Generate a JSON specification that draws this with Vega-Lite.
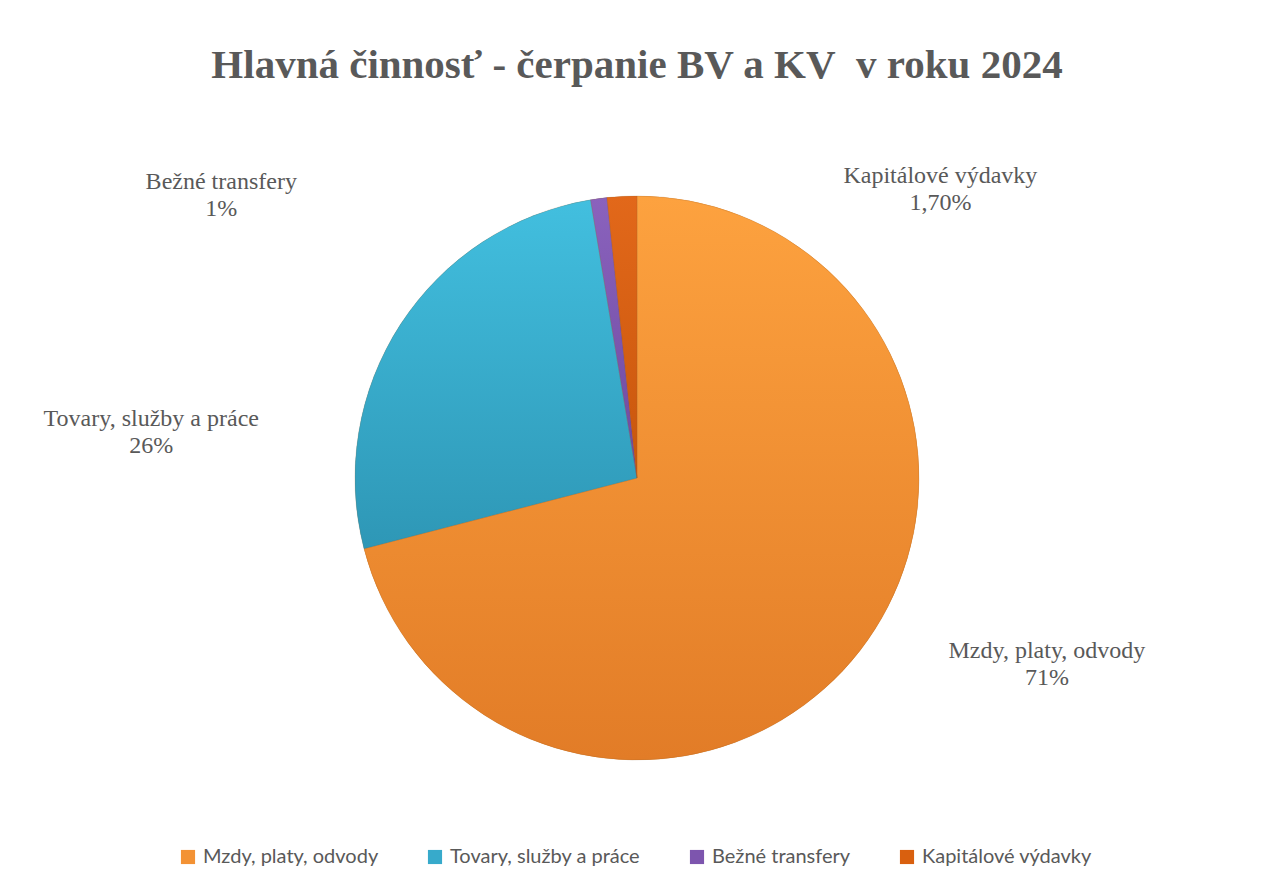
{
  "$schema": "https://vega.github.io/schema/vega-lite/v6.json",
  "autosize": "none",
  "width": 1274,
  "height": 704,
  "padding": {"left": 0, "top": 126, "right": 11, "bottom": 61},
  "background": "white",
  "title": {
    "text": "Hlavná činnosť - čerpanie BV a KV\u00a0 v roku 2024",
    "font": "Liberation Serif",
    "fontSize": 41,
    "fontWeight": "bold",
    "color": "#595959",
    "anchor": "middle",
    "offset": 20
  },
  "config": {"view": {"stroke": null}},
  "data": {
    "values": [
      {"kategoria": "Mzdy, platy, odvody", "podiel": 70.97, "poradie": 1, "popis": "Mzdy, platy, odvody\n71%"},
      {"kategoria": "Tovary, služby a práce", "podiel": 26.4, "poradie": 2, "popis": "Tovary, služby a práce\n26%"},
      {"kategoria": "Bežné transfery", "podiel": 0.93, "poradie": 3, "popis": "Bežné transfery\n1%"},
      {"kategoria": "Kapitálové výdavky", "podiel": 1.7, "poradie": 4, "popis": "Kapitálové výdavky\n1,70%"}
    ]
  },
  "encoding": {
    "theta": {"field": "podiel", "type": "quantitative", "stack": true, "scale": {"domain": [0, 100]}},
    "order": {"field": "poradie", "type": "quantitative"}
  },
  "layer": [
    {
      "mark": {"type": "arc", "outerRadius": 282},
      "encoding": {
        "color": {
          "field": "kategoria",
          "type": "nominal",
          "scale": {
            "domain": ["Mzdy, platy, odvody", "Tovary, služby a práce", "Bežné transfery", "Kapitálové výdavky"],
            "range": ["#F39234", "#37AACB", "#7D55AE", "#D9600F"]
          },
          "legend": {
            "title": null,
            "orient": "none",
            "legendX": 178,
            "legendY": 721,
            "direction": "horizontal",
            "labelFont": "Lato",
            "labelFontSize": 20,
            "labelColor": "#595959",
            "labelOffset": 5,
            "symbolType": "square",
            "symbolSize": 200,
            "symbolStrokeWidth": 0,
            "symbolOpacity": 1,
            "columnPadding": 46,
            "labelLimit": 400
          }
        }
      }
    },
    {
      "mark": {"type": "arc", "outerRadius": 282, "stroke": "#8a5a2a", "strokeWidth": 0.4, "strokeOpacity": 0.5},
      "encoding": {
        "fill": {
          "condition": [
            {"test": "datum.kategoria === 'Mzdy, platy, odvody'", "value": {"gradient": "linear", "x1": 0, "y1": 0, "x2": 0, "y2": 1, "stops": [{"offset": 0, "color": "#FDA23F"}, {"offset": 1, "color": "#E27C27"}]}},
            {"test": "datum.kategoria === 'Tovary, služby a práce'", "value": {"gradient": "linear", "x1": 0, "y1": 0, "x2": 0, "y2": 1, "stops": [{"offset": 0, "color": "#42BFDF"}, {"offset": 1, "color": "#2E97B6"}]}},
            {"test": "datum.kategoria === 'Bežné transfery'", "value": {"gradient": "linear", "x1": 0, "y1": 0, "x2": 0, "y2": 1, "stops": [{"offset": 0, "color": "#8A62BD"}, {"offset": 1, "color": "#6E4AA0"}]}}
          ],
          "value": {"gradient": "linear", "x1": 0, "y1": 0, "x2": 0, "y2": 1, "stops": [{"offset": 0, "color": "#E2681A"}, {"offset": 1, "color": "#C8560C"}]}
        }
      }
    },
    {
      "mark": {"type": "text", "font": "Liberation Serif", "fontSize": 24, "color": "#595959", "lineBreak": "\n", "lineHeight": 27, "align": "center", "baseline": "middle", "dx": 149, "dy": -29},
      "encoding": {
        "radius": {"value": 330},
        "text": {"condition": {"test": "datum.kategoria === 'Mzdy, platy, odvody'", "field": "popis"}, "value": ""}
      }
    },
    {
      "mark": {"type": "text", "font": "Liberation Serif", "fontSize": 24, "color": "#595959", "lineBreak": "\n", "lineHeight": 27, "align": "center", "baseline": "middle", "dx": -209, "dy": 121},
      "encoding": {
        "radius": {"value": 330},
        "text": {"condition": {"test": "datum.kategoria === 'Tovary, služby a práce'", "field": "popis"}, "value": ""}
      }
    },
    {
      "mark": {"type": "text", "font": "Liberation Serif", "fontSize": 24, "color": "#595959", "lineBreak": "\n", "lineHeight": 27, "align": "center", "baseline": "middle", "dx": -371, "dy": 31},
      "encoding": {
        "radius": {"value": 330},
        "text": {"condition": {"test": "datum.kategoria === 'Bežné transfery'", "field": "popis"}, "value": ""}
      }
    },
    {
      "mark": {"type": "text", "font": "Liberation Serif", "fontSize": 24, "color": "#595959", "lineBreak": "\n", "lineHeight": 27, "align": "center", "baseline": "middle", "dx": 321, "dy": 28},
      "encoding": {
        "radius": {"value": 330},
        "text": {"condition": {"test": "datum.kategoria === 'Kapitálové výdavky'", "field": "popis"}, "value": ""}
      }
    }
  ]
}
